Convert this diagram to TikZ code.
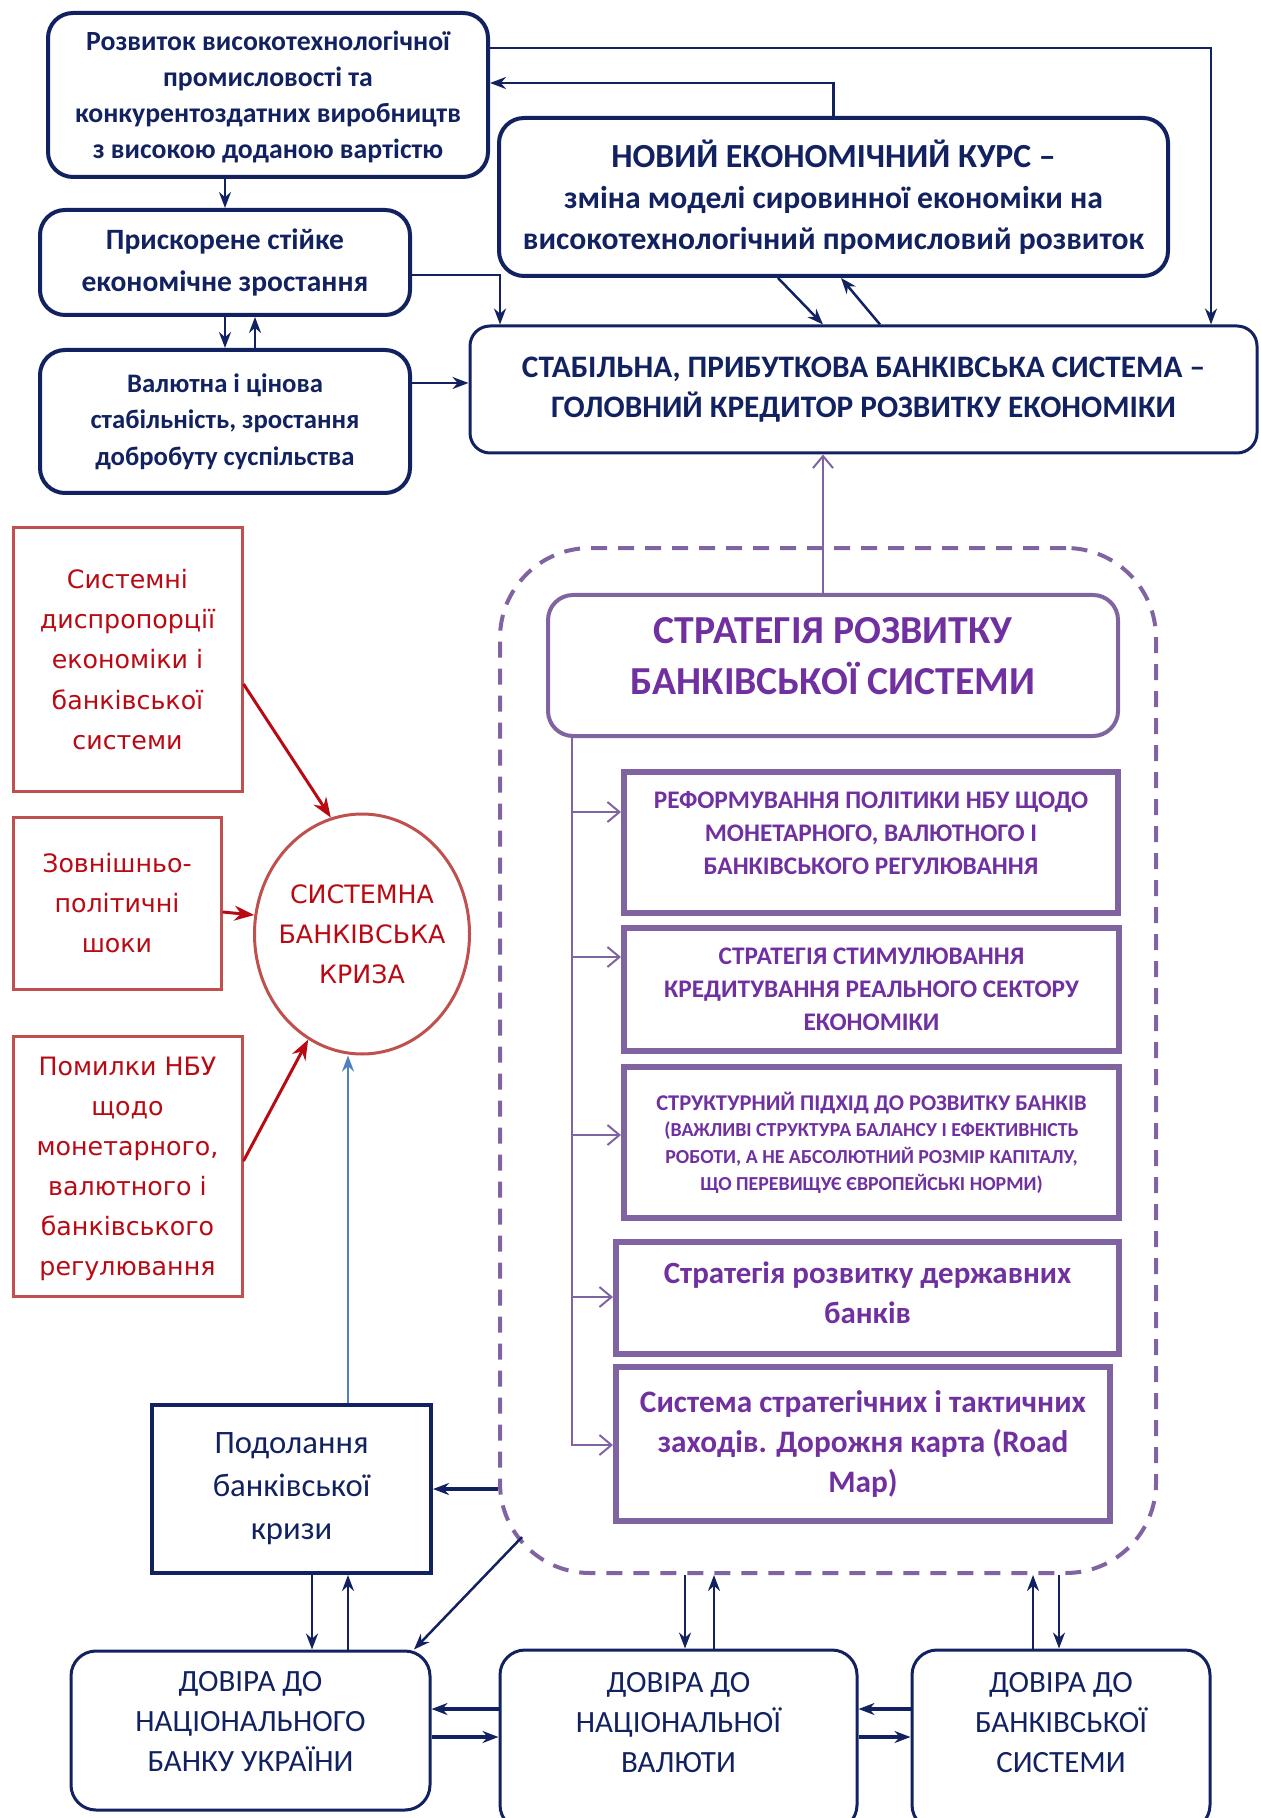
\documentclass[tikz,border=0pt]{standalone}
\usepackage{fontspec}
\setmainfont{Carlito}
\newfontfamily\verdana{DejaVu Sans}
\usetikzlibrary{arrows.meta,shapes.geometric}
\definecolor{navy}{RGB}{18,34,96}
\definecolor{redline}{RGB}{192,80,77}
\definecolor{redtext}{RGB}{185,10,20}
\definecolor{purpline}{RGB}{128,100,162}
\definecolor{purptext}{RGB}{112,48,160}
\definecolor{steel}{RGB}{79,129,189}

\begin{document}
\begin{tikzpicture}[x=0.1mm,y=-0.1mm,
    navybox/.style={draw=navy,text=navy,line width=0.4mm,rounded corners=2.5mm,align=center,inner sep=0.5mm},
    redbox/.style={draw=redline,text=redtext,line width=0.3mm,align=center,inner sep=0.5mm,font=\verdana\fontsize{7.2}{11.4}\selectfont},
    stratbox/.style={draw=purpline,text=purptext,line width=0.6mm,align=center,inner sep=0.5mm},
    trustbox/.style={draw=navy,text=navy,line width=0.3mm,rounded corners=2.5mm,align=center,inner sep=0.5mm,font=\fontsize{8.8}{11.4}\selectfont},
    navyarr/.style={draw=navy,line width=0.25mm,-{Stealth[length=1.6mm,width=1.2mm]}},
    redarr/.style={draw=redtext,line width=0.3mm,-{Stealth[length=2mm,width=1.5mm]}},
    purparr/.style={draw=purpline,line width=0.2mm,-{Straight Barb[length=1.2mm,width=2mm]}}]

\clip (0,0) rectangle (1260,1818);

\node[navybox,minimum width=44mm,minimum height=16.4mm,text depth=0mm,font=\bfseries\fontsize{7.9}{10.2}\selectfont] (devel) at (268,95)
    {Розвиток високотехнологічної\\промисловості та\\конкурентоздатних виробництв\\з високою доданою вартістю};
\node[navybox,minimum width=37mm,minimum height=10.5mm,font=\bfseries\fontsize{8.4}{12}\selectfont] (growth) at (225,262.5)
    {Прискорене стійке\\економічне зростання};
\node[navybox,minimum width=37mm,minimum height=14.3mm,font=\bfseries\fontsize{7.6}{10.4}\selectfont] (stab) at (225,421.5)
    {Валютна і цінова\\стабільність, зростання\\добробуту суспільства};
\node[navybox,minimum width=66.9mm,minimum height=15.8mm,font=\bfseries\fontsize{9}{11.6}\selectfont] (course) at (833.5,197)
    {{\fontsize{9.6}{11.6}\selectfont НОВИЙ ЕКОНОМІЧНИЙ КУРС –}\\зміна моделі сировинної економіки на\\високотехнологічний промисловий розвиток};
\node[navybox,line width=0.3mm,rounded corners=2mm,minimum width=78.7mm,minimum height=12.7mm,font=\bfseries\fontsize{8.9}{11.4}\selectfont] (banksys) at (863.5,389.5)
    {СТАБІЛЬНА, ПРИБУТКОВА БАНКІВСЬКА СИСТЕМА –\\ГОЛОВНИЙ КРЕДИТОР РОЗВИТКУ ЕКОНОМІКИ};

\node[redbox,minimum width=22.9mm,minimum height=26.3mm] (dispr) at (127.5,659.5)
    {Системні\\диспропорції\\економіки і\\банківської\\системи};
\node[redbox,minimum width=20.8mm,minimum height=17.2mm] (shocks) at (117,903)
    {Зовнішньо-\\політичні\\шоки};
\node[redbox,minimum width=22.9mm,minimum height=26mm,text depth=0mm] (errors) at (127.5,1166)
    {Помилки НБУ\\щодо\\монетарного,\\валютного і\\банківського\\регулювання};
\node[redbox,ellipse,inner xsep=-1mm,inner ysep=0mm,minimum width=21.5mm,minimum height=24mm] (crisis) at (362,934)
    {СИСТЕМНА\\БАНКІВСЬКА\\КРИЗА};

\node[draw=purpline,line width=0.4mm,dash pattern=on 1.6mm off 1.1mm,rounded corners=9mm,minimum width=65.6mm,minimum height=102.5mm] (zone) at (828,1060.5) {};
\node[stratbox,line width=0.4mm,rounded corners=2.5mm,minimum width=57mm,minimum height=14.1mm,text depth=2mm,font=\bfseries\fontsize{11.3}{14.5}\selectfont] (strat) at (833,665.5)
    {СТРАТЕГІЯ РОЗВИТКУ\\БАНКІВСЬКОЇ СИСТЕМИ};
\node[stratbox,minimum width=49.4mm,minimum height=14.1mm,text depth=2mm,font=\bfseries\fontsize{7.2}{9.4}\selectfont] (reform) at (871,842.5)
    {РЕФОРМУВАННЯ ПОЛІТИКИ НБУ ЩОДО\\МОНЕТАРНОГО, ВАЛЮТНОГО І\\БАНКІВСЬКОГО РЕГУЛЮВАННЯ};
\node[stratbox,minimum width=49.5mm,minimum height=12.3mm,font=\bfseries\fontsize{7.2}{9.4}\selectfont] (credit) at (871.5,989.5)
    {СТРАТЕГІЯ СТИМУЛЮВАННЯ\\КРЕДИТУВАННЯ РЕАЛЬНОГО СЕКТОРУ\\ЕКОНОМІКИ};
\node[stratbox,minimum width=49.5mm,minimum height=15.1mm,font=\bfseries\fontsize{5.65}{7.6}\selectfont] (struct) at (871.5,1142.5)
    {{\fontsize{6.4}{7.6}\selectfont СТРУКТУРНИЙ ПІДХІД ДО РОЗВИТКУ БАНКІВ}\\(ВАЖЛИВІ СТРУКТУРА БАЛАНСУ І ЕФЕКТИВНІСТЬ\\РОБОТИ, А НЕ АБСОЛЮТНИЙ РОЗМІР КАПІТАЛУ,\\ЩО ПЕРЕВИЩУЄ ЄВРОПЕЙСЬКІ НОРМИ)};
\node[stratbox,minimum width=50.3mm,minimum height=11.2mm,text depth=1.1mm,font=\bfseries\fontsize{8.8}{11.4}\selectfont] (state) at (867.5,1298)
    {Стратегія розвитку державних\\банків};
\node[stratbox,minimum width=49.4mm,minimum height=15.4mm,font=\bfseries\fontsize{8.9}{11.4}\selectfont] (roadmap) at (863,1444)
    {Система стратегічних і тактичних\\заходів. Дорожня карта (Road\\Map)};

\node[draw=navy,text=navy,line width=0.4mm,minimum width=27.9mm,minimum height=16.8mm,align=center,font=\fontsize{9.3}{12.2}\selectfont] (overcome) at (291.5,1489)
    {Подолання\\банківської\\кризи};

\node[trustbox,minimum width=35.9mm,minimum height=15.9mm,text depth=1.8mm] (trustnbu) at (250.5,1730.5)
    {ДОВІРА ДО\\НАЦІОНАЛЬНОГО\\БАНКУ УКРАЇНИ};
\node[trustbox,minimum width=35.7mm,minimum height=18mm,text depth=3.5mm] (trustuah) at (678.5,1740)
    {ДОВІРА ДО\\НАЦІОНАЛЬНОЇ\\ВАЛЮТИ};
\node[trustbox,minimum width=29.8mm,minimum height=18mm,text depth=3.5mm] (trustbank) at (1061,1740)
    {ДОВІРА ДО\\БАНКІВСЬКОЇ\\СИСТЕМИ};

\draw[navyarr] (devel.east |- 0,48) -| (banksys.north -| 1211,0);
\draw[navyarr] (course.north) |- (devel.east |- 0,83);
\draw[navyarr] (growth.north |- devel.south) -- (growth.north);
\draw[navyarr] (growth.east |- 0,275) -| (banksys.north -| 500,0);
\draw[navyarr] (growth.south) -- (stab.north);
\draw[navyarr] (stab.north -| 255,0) -- (growth.south -| 255,0);
\draw[navyarr] (stab.east |- 0,383) -- (banksys.west |- 0,383);
\draw[navyarr] (course.south -| 778,0) -- (banksys.north -| 823,0);
\draw[navyarr] (banksys.north -| 880,0) -- (course.south -| 841,0);
\draw[purparr] (strat.north -| 823,0) -- (banksys.south -| 823,0);

\draw[redarr] (dispr.east |- 0,684) -- (crisis.105);
\draw[redarr] (shocks.east |- 0,912) -- (crisis.170);
\draw[redarr] (errors.east |- 0,1161) -- (crisis.243);
\draw[draw=steel,line width=0.25mm,-{Stealth[length=1.6mm,width=1.2mm]}] (overcome.north -| 348,0) -- (crisis.south -| 348,0);

\coordinate (trunk) at (strat.south -| 572,0);
\draw[purparr] (trunk) |- (roadmap.west |- 0,1445);
\foreach \target/\yy in {reform/812,credit/957,struct/1135,state/1297}
    \draw[purparr] (trunk |- 0,\yy) -- (\target.west |- 0,\yy);

\draw[navyarr,line width=0.35mm] (zone.west |- 0,1489) -- (overcome.east |- 0,1489);
\draw[navyarr] ([shift={(24,-38)}]zone.south west) -- (trustnbu.north -| 414,0);
\draw[navyarr] (overcome.south -| 312,0) -- (trustnbu.north -| 312,0);
\draw[navyarr] (trustnbu.north -| 348,0) -- (overcome.south -| 348,0);
\draw[navyarr] (zone.south -| 685,0) -- (trustuah.north -| 685,0);
\draw[navyarr] (trustuah.north -| 714,0) -- (zone.south -| 714,0);
\draw[navyarr] (trustbank.north -| 1033,0) -- (zone.south -| 1033,0);
\draw[navyarr] (zone.south -| 1059,0) -- (trustbank.north -| 1059,0);
\draw[navyarr,line width=0.35mm] (trustuah.west |- 0,1709) -- (trustnbu.east |- 0,1709);
\draw[navyarr,line width=0.35mm] (trustnbu.east |- 0,1737) -- (trustuah.west |- 0,1737);
\draw[navyarr,line width=0.35mm] (trustbank.west |- 0,1709) -- (trustuah.east |- 0,1709);
\draw[navyarr,line width=0.35mm] (trustuah.east |- 0,1737) -- (trustbank.west |- 0,1737);

\end{tikzpicture}
\end{document}
